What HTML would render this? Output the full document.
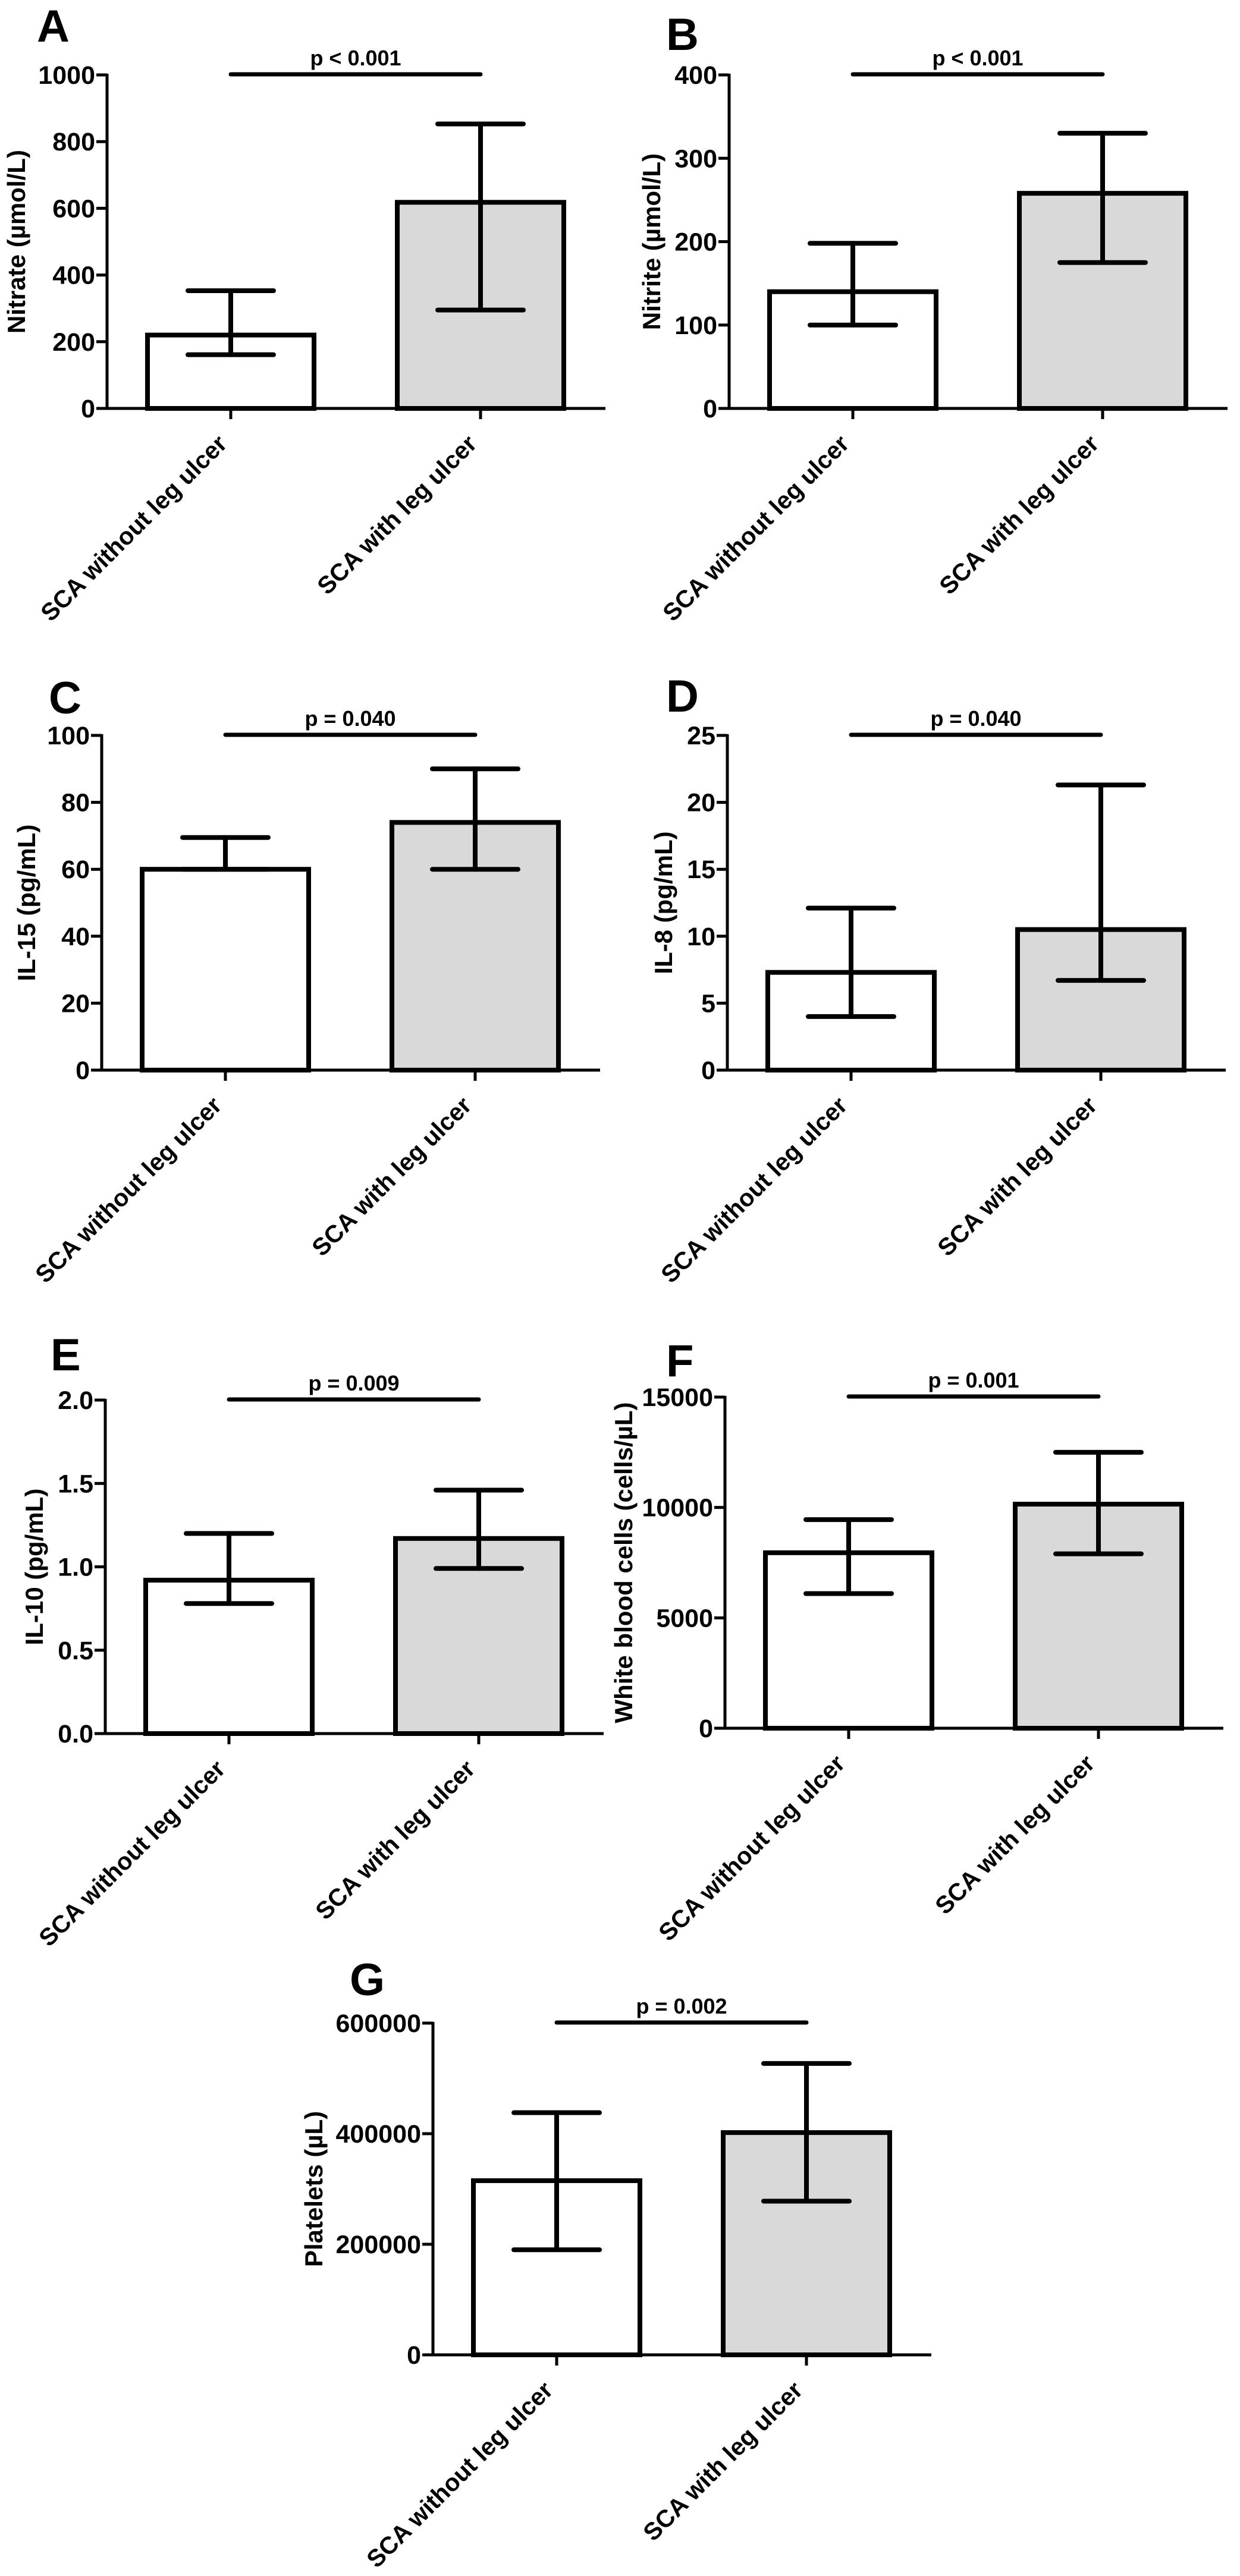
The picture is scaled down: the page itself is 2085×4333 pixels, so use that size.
<!DOCTYPE html>
<html><head><meta charset="utf-8"><style>
html,body{margin:0;padding:0;background:#fff;}
svg{display:block;}
text{font-family:"Liberation Sans",Arial,sans-serif;font-weight:bold;fill:#000;}
</style></head><body>
<svg id="fig" width="2085" height="4333" viewBox="0 0 2085 4333" xmlns="http://www.w3.org/2000/svg"></svg>
<script>
const categories = ["SCA without leg ulcer", "SCA with leg ulcer"];
const panelLetters = ["A","B","C","D","E","F","G"];
const yTitles = ["Nitrate (µmol/L)","Nitrite (µmol/L)","IL-15 (pg/mL)","IL-8 (pg/mL)","IL-10 (pg/mL)","White blood cells (cells/µL)","Platelets (µL)"];
const pLabels = ["p < 0.001","p < 0.001","p = 0.040","p = 0.040","p = 0.009","p = 0.001","p = 0.002"];
const yMax = [1000,400,100,25,2,15000,600000];
const yTicks = [[0,200,400,600,800,1000],[0,100,200,300,400],[0,20,40,60,80,100],[0,5,10,15,20,25],[0,0.5,1.0,1.5,2.0],[0,5000,10000,15000],[0,200000,400000,600000]];
const tickLabels = [["0","200","400","600","800","1000"],["0","100","200","300","400"],["0","20","40","60","80","100"],["0","5","10","15","20","25"],["0.0","0.5","1.0","1.5","2.0"],["0","5000","10000","15000"],["0","200000","400000","600000"]];
const meansWithout = [220,140,60,7.3,0.92,7950,315000];
const meansWith = [618,258,74,10.5,1.17,10150,402000];
const lowWithout = [161,100,60,4.0,0.78,6100,190000];
const highWithout = [353,198,69.5,12.1,1.2,9450,438000];
const lowWith = [295,175,60,6.7,0.99,7900,278000];
const highWith = [853,330,90,21.3,1.46,12500,527000];

// layout (pixels): axis x, y of zero, y of top, letter pos, y-title x
const layout = [
 {ax:180,y0:687,yt:126,lx:62,ly:70,tx:42},
 {ax:1226,y0:687,yt:126,lx:1120,ly:84,tx:1110},
 {ax:171,y0:1800,yt:1237,lx:82,ly:1200,tx:59},
 {ax:1223,y0:1800,yt:1237,lx:1120,ly:1197,tx:1130},
 {ax:177,y0:2916,yt:2355,lx:85,ly:2305,tx:72},
 {ax:1219,y0:2907,yt:2350,lx:1120,ly:2315,tx:1063},
 {ax:728,y0:3961,yt:3403,lx:588,ly:3356,tx:542}
];
const NS="http://www.w3.org/2000/svg";
const svg=document.getElementById('fig');
function mk(tag,attrs,parent){const e=document.createElementNS(NS,tag);for(const k in attrs)e.setAttribute(k,attrs[k]);(parent||svg).appendChild(e);return e;}

for(let i=0;i<7;i++){
  const L=layout[i];
  const g=mk('g',{});
  
  
  const yScale=v=>L.y0-(v/yMax[i])*(L.y0-L.yt);
  const xEnd=L.ax+838;
  const centers=[L.ax+208,L.ax+628];
  const lt=mk('text',{x:L.lx,y:L.ly,'font-size':76},g);lt.textContent=panelLetters[i];
  
  
  const means=[meansWithout[i],meansWith[i]];
  const lows=[lowWithout[i],lowWith[i]];
  const highs=[highWithout[i],highWith[i]];
  const fills=['#ffffff','#d9d9d9'];
  for(let b=0;b<2;b++){
    const yt=yScale(means[b]);
    const r=mk('rect',{x:centers[b]-140,y:yt,width:280,height:L.y0-yt,fill:fills[b],stroke:'#000','stroke-width':8},g);
    
    
    const eg=mk('g',{stroke:'#000','stroke-width':8,'stroke-linecap':'round'},g);
    
    
    mk('line',{x1:centers[b],x2:centers[b],y1:yScale(lows[b]),y2:yScale(highs[b])},eg);
    mk('line',{x1:centers[b]-72,x2:centers[b]+72,y1:yScale(highs[b]),y2:yScale(highs[b])},eg);
    mk('line',{x1:centers[b]-72,x2:centers[b]+72,y1:yScale(lows[b]),y2:yScale(lows[b])},eg);
  }
  const ya=mk('line',{x1:L.ax,x2:L.ax,y1:L.yt-2,y2:L.y0+2,stroke:'#000','stroke-width':5},g);
  
  
  const xa=mk('line',{x1:L.ax-18,x2:xEnd,y1:L.y0,y2:L.y0,stroke:'#000','stroke-width':5},g);
  
  
  yTicks[i].forEach((v,k)=>{
    const y=yScale(v);
    mk('line',{x1:L.ax-18,x2:L.ax,y1:y,y2:y,stroke:'#000','stroke-width':5},g);
    const t=mk('text',{x:L.ax-20,y:y+15,'font-size':43,'text-anchor':'end'},g);
    t.textContent=tickLabels[i][k];
    
    
  });
  centers.forEach((c,b)=>{
    mk('line',{x1:c,x2:c,y1:L.y0,y2:L.y0+18,stroke:'#000','stroke-width':5},g);
    const t=mk('text',{x:c-4,y:L.y0+62,'font-size':41,'text-anchor':'end',transform:`rotate(-45 ${c-4} ${L.y0+62})`},g);
    t.textContent=categories[b];
    
    
  });
  const ym=(L.y0+L.yt)/2;
  const yt=mk('text',{x:L.tx,y:ym,'font-size':42,'text-anchor':'middle',transform:`rotate(-90 ${L.tx} ${ym})`},g);
  yt.textContent=yTitles[i];
  
  
  const sl=mk('line',{x1:centers[0],x2:centers[1],y1:L.yt-1,y2:L.yt-1,stroke:'#000','stroke-width':7,'stroke-linecap':'round'},g);
  
  
  const pt=mk('text',{x:(centers[0]+centers[1])/2,y:L.yt-16,'font-size':36,'text-anchor':'middle'},g);
  pt.textContent=pLabels[i];
  
  
}
</script>
</body></html>
